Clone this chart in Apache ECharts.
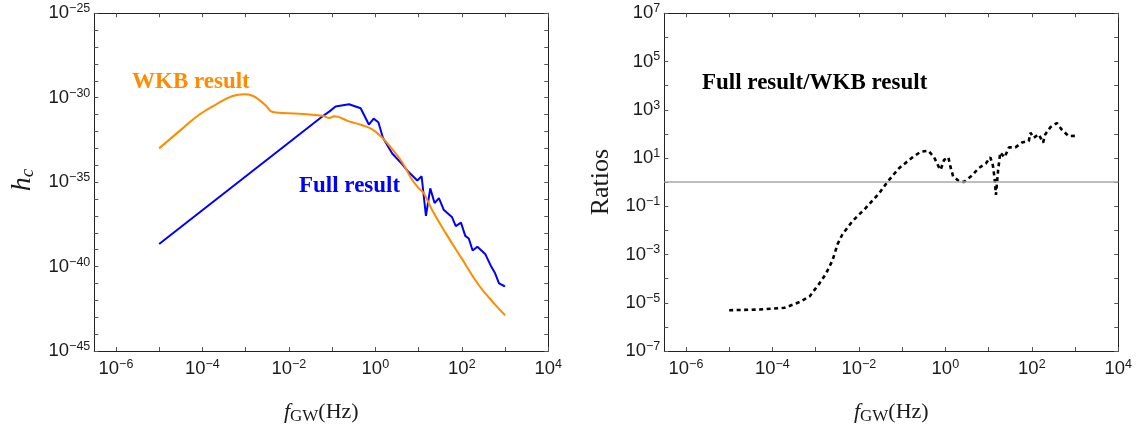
<!DOCTYPE html>
<html>
<head>
<meta charset="utf-8">
<script src="https://cdn.jsdelivr.net/npm/echarts@6/dist/echarts.min.js"></script>
<style>
html,body{margin:0;padding:0;background:#ffffff;}
#chart{width:1142px;height:430px;}
</style>
</head>
<body>
<div id="chart"></div>
<script>
// ---- values, given as log10 exponents (axes are logarithmic: 10^n) ----
// left panel: WKB result (orange)
const wkbLogF = [-5.0, -4.45, -4.06, -3.68, -3.30, -3.03, -2.84, -2.68, -2.53, -2.41, -2.30, -1.76, -1.22, -1.07, -0.95, -0.61, -0.30, -0.07, 0.16, 0.39, 0.62, 0.81, 0.97, 1.12, 1.31, 1.62, 2.00, 2.39, 2.77, 3.0];
const wkbLogH = [-33.0, -31.8, -30.98, -30.39, -29.9, -29.8, -29.88, -30.14, -30.47, -30.81, -30.87, -30.95, -31.07, -31.2, -31.1, -31.4, -31.63, -31.88, -32.37, -33.05, -33.82, -34.69, -35.27, -35.66, -36.63, -37.99, -39.53, -41.09, -42.25, -42.88];
// left panel: Full result (blue)
const fullLogF = [-5.0, -1.22, -1.06, -0.92, -0.61, -0.34, -0.15, -0.04, 0.07, 0.175, 0.39, 0.58, 0.77, 0.97, 1.07, 1.17, 1.27, 1.37, 1.47, 1.58, 1.77, 1.86, 1.98, 2.08, 2.16, 2.25, 2.36, 2.54, 2.68, 2.77, 2.86, 2.98, 3.0];
const fullLogH = [-38.66, -31.1, -30.81, -30.52, -30.39, -30.62, -31.59, -31.24, -31.45, -32.37, -33.3, -33.82, -34.4, -34.9, -34.65, -37.0, -35.37, -36.24, -35.95, -36.63, -37.06, -37.6, -37.4, -38.18, -38.34, -39.05, -38.82, -39.25, -40.0, -40.4, -41.0, -41.15, -41.18];
// right panel: Full result / WKB result (dashed black)
const ratioLogF = [-5.0, -4.30, -3.72, -3.37, -3.14, -2.91, -2.76, -2.61, -2.49, -2.38, -2.15, -1.84, -1.53, -1.34, -1.07, -0.76, -0.57, -0.39, -0.26, -0.15, -0.11, -0.03, 0.07, 0.12, 0.18, 0.31, 0.43, 0.62, 0.77, 0.94, 1.04, 1.10, 1.14, 1.17, 1.22, 1.27, 1.37, 1.47, 1.62, 1.77, 1.93, 1.97, 2.04, 2.16, 2.26, 2.31, 2.43, 2.58, 2.69, 2.85, 3.0];
const ratioLogR = [-5.31, -5.28, -5.21, -4.97, -4.74, -4.19, -3.79, -3.24, -2.56, -2.16, -1.62, -1.07, -0.46, 0.01, 0.58, 1.03, 1.26, 1.30, 1.03, 0.62, 0.51, 0.92, 1.03, 0.62, 0.24, 0.05, 0.01, 0.28, 0.58, 0.78, 1.03, 0.69, 0.15, -0.53, 0.49, 1.23, 1.03, 1.44, 1.44, 1.64, 1.71, 2.05, 1.84, 1.98, 1.64, 1.98, 2.28, 2.45, 2.18, 1.91, 1.92];
const unityRatioExp = 0; // reference line at ratio = 10^0 = 1

// axis extents and ticks (exponents of 10)
const xRange = [-6.5, 4];
const xTickExp = [-6, -5, -4, -3, -2, -1, 0, 1, 2, 3, 4];
const xLabelExp = [-6, -4, -2, 0, 2, 4];
const hRange = [-45, -25];
const hTickExp = [-45, -44, -43, -42, -41, -40, -39, -38, -37, -36, -35, -34, -33, -32, -31, -30, -29, -28, -27, -26, -25];
const hLabelExp = [-45, -40, -35, -30, -25];
const rRange = [-7, 7];
const rTickExp = [-7, -6, -5, -4, -3, -2, -1, 0, 1, 2, 3, 4, 5, 6, 7];
const rLabelExp = [-7, -5, -3, -1, 1, 3, 5, 7];

// ---- helpers ----
const pairs = (fx, fy) => fx.map((e, i) => [e, fy[i]]);

const TXT = '#1a1a1a';
const sansFont = "Liberation Sans";
const serifFont = "Liberation Serif";

function powLabel(v) {
  const e = Math.round(v);
  return '{b|10}{s|' + (e < 0 ? '\u2212' : '') + Math.abs(e) + '}';
}
const labelRich = {
  b: { fontSize: 18.5, lineHeight: 22, fontFamily: sansFont, color: TXT },
  s: { fontSize: 12.5, lineHeight: 9, verticalAlign: 'top', fontFamily: sansFont, color: TXT }
};

function axis(gridIndex, position, range, tickExp, labelExp, showLabels, extra) {
  return Object.assign({
    type: 'value',
    gridIndex: gridIndex,
    position: position,
    min: range[0],
    max: range[1],
    axisLine: { show: true, onZero: false, lineStyle: { color: '#222', width: 1 } },
    axisTick: {
      show: true, inside: true, length: 4,
      customValues: tickExp,
      lineStyle: { color: '#555', width: 1 }
    },
    axisLabel: {
      show: showLabels,
      customValues: labelExp,
      formatter: powLabel,
      fontSize: 18.5,
      fontFamily: sansFont,
      color: TXT,
      rich: labelRich,
      margin: position === 'bottom' ? 7 : 4
    },
    splitLine: { show: false },
    minorTick: { show: false },
    minorSplitLine: { show: false }
  }, extra || {});
}

const xName = '{f|f}{g|GW}{p|(Hz)}';
const xNameStyle = {
  color: TXT,
  rich: {
    f: { fontFamily: serifFont, fontStyle: 'italic', fontSize: 22, lineHeight: 26, color: TXT },
    g: { fontFamily: serifFont, fontSize: 17, lineHeight: 20, verticalAlign: 'bottom', color: TXT },
    p: { fontFamily: serifFont, fontSize: 22, lineHeight: 26, color: TXT }
  }
};

const option = {
  animation: false,
  backgroundColor: '#ffffff',
  grid: [
    { left: 94.3, top: 13.3, width: 454, height: 344, containLabel: false },
    { left: 664.3, top: 13.3, width: 454, height: 344, containLabel: false }
  ],
  xAxis: [
    axis(0, 'bottom', xRange, xTickExp, xLabelExp, true, {
      name: xName, nameLocation: 'middle', nameGap: 48, nameTextStyle: xNameStyle
    }),
    axis(0, 'top', xRange, xTickExp, xLabelExp, false),
    axis(1, 'bottom', xRange, xTickExp, xLabelExp, true, {
      name: xName, nameLocation: 'middle', nameGap: 48, nameTextStyle: xNameStyle
    }),
    axis(1, 'top', xRange, xTickExp, xLabelExp, false)
  ],
  yAxis: [
    axis(0, 'left', hRange, hTickExp, hLabelExp, true, {
      name: '{h|h}{c|c}', nameLocation: 'middle', nameRotate: 90, nameGap: 57,
      nameTextStyle: {
        color: TXT,
        padding: [0, 0, 0, 4],
        rich: {
          h: { fontFamily: serifFont, fontStyle: 'italic', fontSize: 28, lineHeight: 30, color: TXT },
          c: { fontFamily: serifFont, fontStyle: 'italic', fontSize: 19, lineHeight: 14, verticalAlign: 'bottom', color: TXT }
        }
      }
    }),
    axis(0, 'right', hRange, hTickExp, hLabelExp, false),
    axis(1, 'left', rRange, rTickExp, rLabelExp, true, {
      name: 'Ratios', nameLocation: 'middle', nameRotate: 90, nameGap: 50,
      nameTextStyle: { fontFamily: serifFont, fontSize: 26, color: TXT }
    }),
    axis(1, 'right', rRange, rTickExp, rLabelExp, false)
  ],
  series: [
    {
      name: 'WKB result', type: 'line', xAxisIndex: 0, yAxisIndex: 0,
      data: pairs(wkbLogF, wkbLogH), showSymbol: false, smooth: 0.45,
      lineStyle: { color: '#ff8c00', width: 2 }, itemStyle: { color: '#ff8c00' }, z: 3
    },
    {
      name: 'Full result', type: 'line', xAxisIndex: 0, yAxisIndex: 0,
      data: pairs(fullLogF, fullLogH), showSymbol: false,
      lineStyle: { color: '#0000ff', width: 2 }, itemStyle: { color: '#0000ff' }, z: 2
    },
    {
      name: 'Ratio', type: 'line', xAxisIndex: 2, yAxisIndex: 2,
      data: pairs(ratioLogF, ratioLogR), showSymbol: false,
      lineStyle: { color: '#000000', width: 2.6, type: [4, 3.5] }, itemStyle: { color: '#000' },
      markLine: {
        silent: true, symbol: 'none', label: { show: false },
        lineStyle: { color: '#a8a8a8', width: 1.5, type: 'solid' },
        data: [{ yAxis: unityRatioExp }]
      }
    }
  ],
  graphic: [
    { type: 'text', x: 132, y: 82.5, style: { text: 'WKB result', fill: '#ff8c00', font: "bold 23px 'Liberation Serif'", align: 'left', verticalAlign: 'middle' } },
    { type: 'text', x: 299, y: 185.7, style: { text: 'Full result', fill: '#0000ff', font: "bold 23px 'Liberation Serif'", align: 'left', verticalAlign: 'middle' } },
    { type: 'text', x: 702, y: 83, style: { text: 'Full result/WKB result', fill: '#000000', font: "bold 23px 'Liberation Serif'", align: 'left', verticalAlign: 'middle' } }
  ]
};

const chart = echarts.init(document.getElementById('chart'), null, { renderer: 'canvas' });
chart.setOption(option);
</script>
</body>
</html>
